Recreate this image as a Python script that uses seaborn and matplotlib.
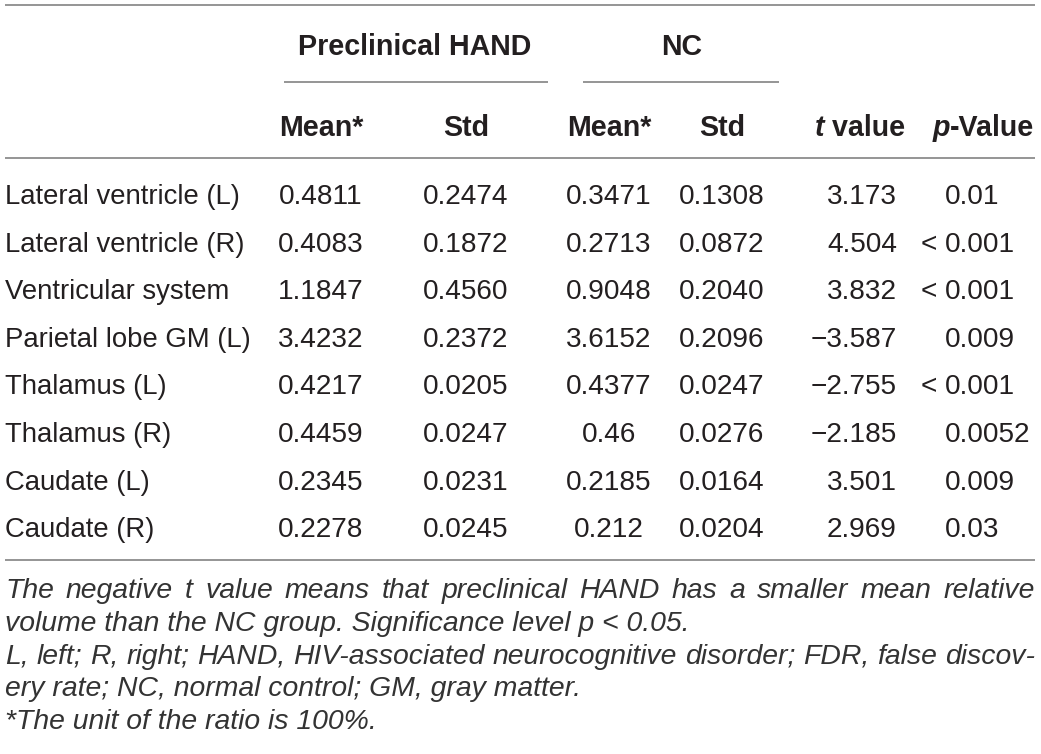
import matplotlib
matplotlib.use("Agg")
import matplotlib.pyplot as plt
import seaborn as sns

# table contents
regions = ["Lateral ventricle (L)", "Lateral ventricle (R)", "Ventricular system",
           "Parietal lobe GM (L)", "Thalamus (L)", "Thalamus (R)",
           "Caudate (L)", "Caudate (R)"]
hand_mean = ["0.4811", "0.4083", "1.1847", "3.4232", "0.4217", "0.4459", "0.2345", "0.2278"]
hand_std = ["0.2474", "0.1872", "0.4560", "0.2372", "0.0205", "0.0247", "0.0231", "0.0245"]
nc_mean = ["0.3471", "0.2713", "0.9048", "3.6152", "0.4377", "0.46", "0.2185", "0.212"]
nc_std = ["0.1308", "0.0872", "0.2040", "0.2096", "0.0247", "0.0276", "0.0164", "0.0204"]
t_values = ["3.173", "4.504", "3.832", "\u22123.587", "\u22122.755", "\u22122.185", "3.501", "2.969"]
p_values = ["0.01", "< 0.001", "< 0.001", "0.009", "< 0.001", "0.0052", "0.009", "0.03"]

group_labels = ["Preclinical HAND", "NC"]
footnotes = [
    "The negative t value means that preclinical HAND has a smaller mean relative",
    "volume than the NC group. Significance level p < 0.05.",
    "L, left; R, right; HAND, HIV-associated neurocognitive disorder; FDR, false discov-",
    "ery rate; NC, normal control; GM, gray matter.",
    "*The unit of the ratio is 100%.",
]
justify = [True, False, True, False, False]

sns.set_theme(style="white")
plt.rcParams["font.family"] = ["Liberation Sans", "DejaVu Sans"]

W, H = 1041, 754
fig = plt.figure(figsize=(W / 100, H / 100), dpi=100)
ax = fig.add_axes([0, 0, 1, 1])
ax.set_xlim(0, W)
ax.set_ylim(H, 0)
ax.axis("off")

ink = "#231f20"
rule = "#8c8c8c"
fs = 20.2       # numbers
fs_label = 19.8 # row labels
fs_head = 20.6  # bold headers

def hline(y, x0, x1):
    ax.plot([x0, x1], [y, y], color=rule, lw=1.3, solid_capstyle="butt")

def pieces(x, y, parts, ha="left"):
    # draw text runs one after another (for mixed italic / upright)
    fig.canvas.draw()
    r = fig.canvas.get_renderer()
    objs = []
    for s, kw in parts:
        objs.append(ax.text(0, y, s, va="center_baseline", color=ink, fontsize=fs_head, **kw))
    widths = [o.get_window_extent(r).width for o in objs]
    if ha == "center":
        x = x - sum(widths) / 2
    for o, w in zip(objs, widths):
        o.set_x(x)
        x += w

# rules
hline(5, 5, 1035)
hline(82, 284, 548)
hline(82, 583, 779)
hline(158, 5, 1035)
hline(560, 5, 1035)

# group headers
ax.text(415, 44, group_labels[0], ha="center", va="center_baseline",
        fontsize=fs_head, fontweight="bold", color=ink)
ax.text(682, 44, group_labels[1], ha="center", va="center_baseline",
        fontsize=fs_head, fontweight="bold", color=ink)

# column headers
col_x = [321, 466, 609, 722]
for cx, lab in zip(col_x, ["Mean*", "Std", "Mean*", "Std"]):
    ax.text(cx, 125, lab, ha="center", va="center_baseline",
            fontsize=fs_head, fontweight="bold", color=ink)
pieces(860, 125, [("t", dict(fontweight="bold", fontstyle="italic")),
                  (" value", dict(fontweight="bold"))], ha="center")
pieces(983, 125, [("p", dict(fontweight="bold", fontstyle="italic")),
                  ("-Value", dict(fontweight="bold"))], ha="center")

# body rows
row_y0, row_dy = 194, 47.6
for i in range(len(regions)):
    y = row_y0 + i * row_dy
    ax.text(5, y, regions[i], ha="left", va="center_baseline", fontsize=fs_label, color=ink)
    for cx, col in zip(col_x, [hand_mean, hand_std, nc_mean, nc_std]):
        ax.text(cx, y, col[i], ha="center", va="center_baseline", fontsize=fs, color=ink)
    ax.text(897, y, t_values[i], ha="right", va="center_baseline", fontsize=fs, color=ink)
    p = p_values[i]
    if p.startswith("<"):
        ax.text(937, y, "<", ha="right", va="center_baseline", fontsize=fs, color=ink)
        p = p[1:].strip()
    ax.text(945, y, p, ha="left", va="center_baseline", fontsize=fs, color=ink)

# footnotes
fig.canvas.draw()
r = fig.canvas.get_renderer()
fn_y0, fn_dy = 588, 32.8
for k, line in enumerate(footnotes):
    y = fn_y0 + k * fn_dy
    kw = dict(va="center_baseline", fontsize=20.4, fontstyle="italic", color="#333333")
    if not justify[k]:
        ax.text(5, y, line, ha="left", **kw)
        continue
    words = line.split(" ")
    objs = [ax.text(0, y, w, ha="left", **kw) for w in words]
    widths = [o.get_window_extent(r).width for o in objs]
    gap = (1035 - 5 - sum(widths)) / (len(words) - 1)
    x = 5
    for o, w in zip(objs, widths):
        o.set_x(x)
        x += w + gap

fig.savefig("out.png", dpi=100)
